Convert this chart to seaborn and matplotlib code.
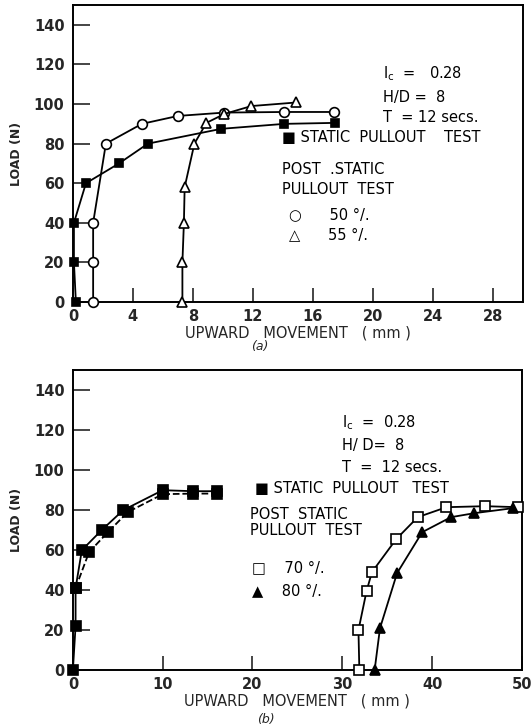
import matplotlib
matplotlib.use("Agg")
import matplotlib.pyplot as plt
import seaborn as sns
import pandas as pd

# ---------------- data: panel (a) ----------------
a_static_x = [0.2, 0.07, 0.07, 0.87, 3.07, 5.0, 9.9, 14.1, 17.5]
a_static_y = [0, 20, 40, 60, 70, 80, 87.5, 90, 90.5]
a_50_x = [1.35, 1.35, 1.35, 2.2, 4.6, 7.0, 10.1, 14.1, 17.4]
a_50_y = [0, 20, 40, 80, 90, 94, 95.7, 96, 96]
a_55_x = [7.3, 7.3, 7.4, 7.45, 8.1, 8.9, 10.1, 11.9, 14.9]
a_55_y = [0, 20, 40, 58, 80, 90.5, 95, 99, 100.8]
a_xticks = [0, 4, 8, 12, 16, 20, 24, 28]

# ---------------- data: panel (b) ----------------
b_static_x = [0, 0.3, 0.3, 1.0, 3.2, 5.6, 10.0, 13.4, 16.0]
b_static_y = [0, 22, 41, 60, 70, 80, 90, 89.5, 89.5]
b_static2_x = [0.3, 1.8, 3.9, 6.1, 10.0, 13.4, 16.0]
b_static2_y = [41, 59, 69, 79, 88, 88.3, 88.3]
b_70_x = [31.9, 31.8, 32.7, 33.3, 36.0, 38.4, 41.6, 45.9, 49.6]
b_70_y = [0, 20, 39.5, 49, 65.5, 76.5, 81.5, 82, 81.5]
b_80_x = [33.6, 34.2, 36.1, 38.9, 42.1, 44.7, 49.0]
b_80_y = [0, 21, 48.5, 69, 76.5, 78.5, 81]
b_xticks = [0, 10, 20, 30, 40, 50]

y_ticks = [0, 20, 40, 60, 80, 100, 120, 140]

sns.set_style("ticks")
plt.rcParams["font.family"] = ["DejaVu Sans"]

fig = plt.figure(figsize=(5.32, 7.26), dpi=100)
ax_a = fig.add_axes([0.137, 0.584, 0.846, 0.409])
ax_b = fig.add_axes([0.137, 0.077, 0.844, 0.413])

LW = 1.3
INK = "black"


def series(ax, xs, ys, marker, ms, face, ls="-"):
    df = pd.DataFrame({"x": xs, "y": ys})
    sns.lineplot(data=df, x="x", y="y", ax=ax, sort=False, estimator=None,
                 color=INK, lw=LW, linestyle=ls, marker=marker,
                 markersize=ms, markerfacecolor=face,
                 markeredgecolor=INK, markeredgewidth=1.2, clip_on=False,
                 zorder=3)


def frame(ax, xticks, xmax):
    ax.set_xlim(0, xmax)
    ax.set_ylim(0, 150)
    ax.set_xticks(xticks)
    ax.set_yticks(y_ticks)
    ax.set_xticklabels([str(t) for t in xticks])
    ax.set_yticklabels([str(t) for t in y_ticks])
    ax.tick_params(axis="y", direction="in", length=12, width=1.2,
                   labelsize=10.5, pad=6)
    ax.tick_params(axis="x", direction="in", length=10, width=1.2,
                   labelsize=10.5, pad=5)
    for lab in ax.get_xticklabels() + ax.get_yticklabels():
        lab.set_fontweight("bold")
    for sp in ax.spines.values():
        sp.set_visible(True)
        sp.set_linewidth(1.4)
        sp.set_color(INK)
    ax.set_xlabel("UPWARD   MOVEMENT   ( mm )", fontsize=10.5, labelpad=1)
    ax.set_ylabel("LOAD (N)", fontsize=9, fontweight="bold", labelpad=8)


# ---------- panel (a) ----------
series(ax_a, a_static_x, a_static_y, "s", 6, INK)
series(ax_a, a_50_x, a_50_y, "o", 7, "white")
series(ax_a, a_55_x, a_55_y, "^", 7, "white")
frame(ax_a, a_xticks, 30)

ta = dict(fontsize=10.5, color=INK, transform=ax_a.transAxes)
ax_a.text(0.69, 0.755, r"I$_\mathregular{c}$  =   0.28", **ta)
ax_a.text(0.69, 0.675, "H/D =  8", **ta)
ax_a.text(0.69, 0.607, "T  = 12 secs.", **ta)
ax_a.text(0.465, 0.54, "■ STATIC  PULLOUT    TEST", **ta)
ax_a.text(0.465, 0.43, "POST  .STATIC", **ta)
ax_a.text(0.465, 0.365, "PULLOUT  TEST", **ta)
ax_a.text(0.48, 0.28, "○      50 °/.", **ta)
ax_a.text(0.48, 0.21, "△      55 °/.", **ta)
ax_a.text(0.415, -0.16, "(a)", fontsize=9, style="italic",
          transform=ax_a.transAxes, ha="center")

# ---------- panel (b) ----------
series(ax_b, b_static_x, b_static_y, "s", 7.5, INK)
series(ax_b, b_static2_x, b_static2_y, "s", 7.5, INK, ls="--")
series(ax_b, b_70_x, b_70_y, "s", 7, "white")
series(ax_b, b_80_x, b_80_y, "^", 7.5, INK)
frame(ax_b, b_xticks, 50)

tb = dict(fontsize=10.5, color=INK, transform=ax_b.transAxes)
ax_b.text(0.6, 0.81, r"I$_\mathregular{c}$  =  0.28", **tb)
ax_b.text(0.6, 0.735, "H/ D=  8", **tb)
ax_b.text(0.6, 0.66, "T  =  12 secs.", **tb)
ax_b.text(0.405, 0.59, "■ STATIC  PULLOUT   TEST", **tb)
ax_b.text(0.395, 0.505, "POST  STATIC", **tb)
ax_b.text(0.395, 0.45, "PULLOUT  TEST", **tb)
ax_b.text(0.4, 0.325, "□    70 °/.", **tb)
ax_b.text(0.4, 0.25, "▲    80 °/.", **tb)
ax_b.text(0.43, -0.175, "(b)", fontsize=9, style="italic",
          transform=ax_b.transAxes, ha="center")

fig.savefig("out.png", dpi=100)
